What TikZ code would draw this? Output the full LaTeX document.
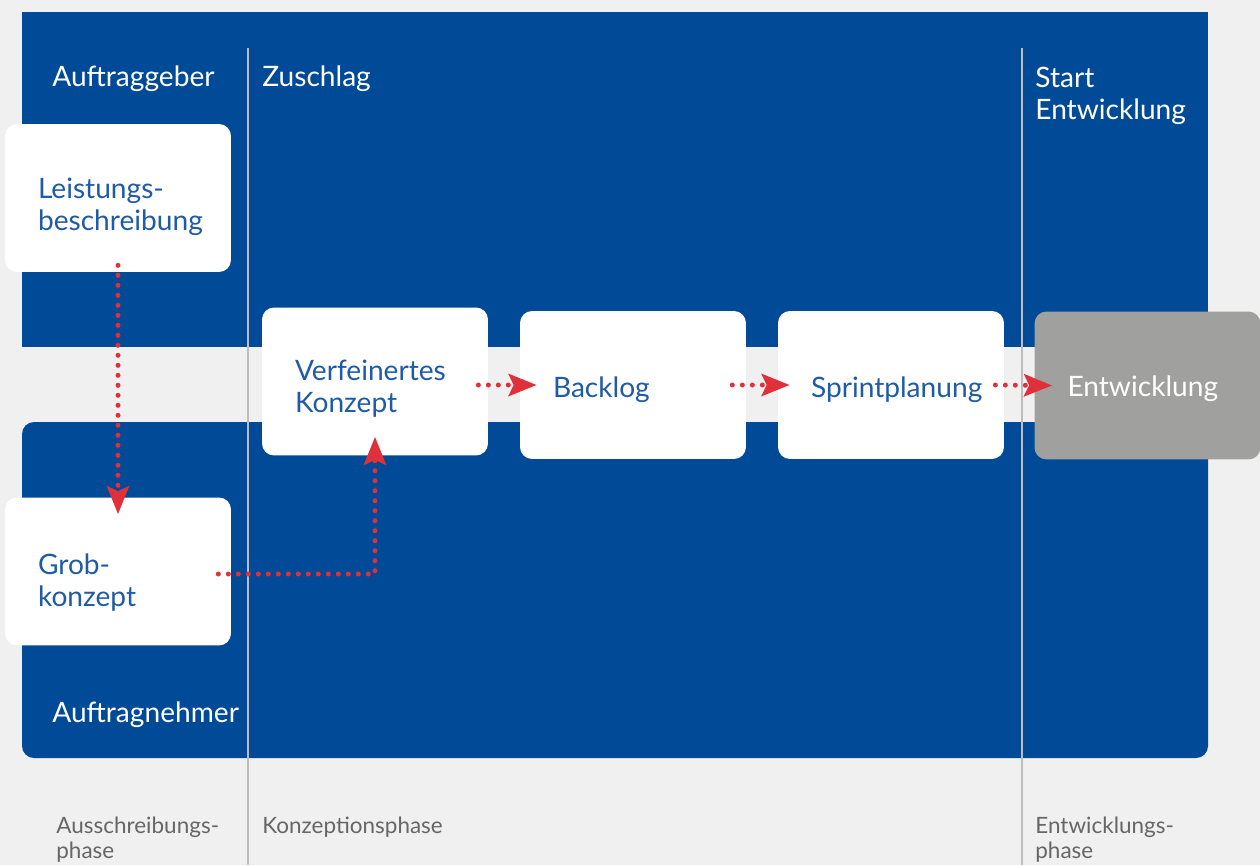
\documentclass[tikz,border=0pt]{standalone}
\usepackage{fontspec}
\setmainfont{Lato}
\usepackage{tikz}
\usetikzlibrary{arrows.meta, positioning}

\definecolor{bgray}{HTML}{F0F0F0}
\definecolor{panelblue}{HTML}{004A97}
\definecolor{textblue}{HTML}{1F5BA6}
\definecolor{linegray}{HTML}{BDBDBD}
\definecolor{devgray}{HTML}{A0A19F}
\definecolor{flowred}{HTML}{E0313A}
\definecolor{phasegray}{HTML}{666666}

\begin{document}
\begin{tikzpicture}[
    x=0.02cm, y=-0.02cm,
    box/.style={rectangle, rounded corners=0.24cm, fill=white, text=textblue, minimum width=4.52cm, minimum height=2.96cm, text width=3.2cm, inner xsep=0.66cm, inner ysep=0pt, align=left, font=\fontsize{16}{18.2}\selectfont},
    drop/.style={execute at begin node={\rule{0pt}{#1}}},
    lane/.style={inner sep=0pt, anchor=base west, align=left, text=white, font=\fontsize{16}{18.2}\selectfont},
    phase/.style={inner sep=0pt, anchor=base west, align=left, text=phasegray, font=\fontsize{12.8}{14.2}\selectfont},
    flow/.style={draw=flowred, line width=0.1cm, line cap=round, dash pattern=on 0pt off 0.2cm, -{Stealth[length=0.56cm, width=0.44cm, inset=0.1cm, fill=flowred]}}
    ]

    % Background
    \fill[bgray] (0,0) rectangle (1260,865);
    \useasboundingbox (0,0) rectangle (1260,865);

    % Lanes
    \fill[panelblue] (22,12) rectangle (1208,347);
    \fill[panelblue, rounded corners=0.24cm] (22,422) rectangle (1208,758);

    % Phase borders
    \draw[linegray, line width=0.03cm] (248,48) -- (248,865);
    \draw[linegray, line width=0.03cm] (1022,48) -- (1022,865);

    % Lane and milestone labels
    \node[lane] (geber) at (52,87) {Auftraggeber};
    \node[lane] (zuschlag) at (262,87) {Zuschlag};
    \node[lane] (start) at (1035,119) {Start\\Entwicklung};
    \node[lane] (nehmer) at (52,722) {Auftragnehmer};

    % Boxes
    \node[box, drop=22pt] (leistung) at (118,198) {Leistungs-\\beschreibung};
    \node[box, drop=24pt] (grob) at (118,571.5) {Grob-\\konzept};
    \node[box, drop=20pt] (verfeinert) at (375,381.5) {Verfeinertes\\Konzept};
    \node[box, drop=17pt] (backlog) at (633,385) {Backlog};
    \node[box, drop=17pt] (sprint) at (891,385) {Sprintplanung};
    \node[box, drop=16pt, fill=devgray, text=white, minimum width=4.5cm] (entw) at (1147.5,385.5) {Entwicklung};

    % Flow
    \draw[flow] ([yshift=0.14cm]leistung.south) -- ([yshift=-0.34cm]grob.north);
    \draw[flow] ([xshift=-0.26cm, yshift=-0.05cm]grob.east) -| ([yshift=0.38cm]verfeinert.south);
    \draw[flow] ([xshift=-0.2cm, yshift=-0.07cm]verfeinert.east) -- ([xshift=0.34cm]backlog.west);
    \draw[flow] ([xshift=-0.28cm]backlog.east) -- ([xshift=0.24cm]sprint.west);
    \draw[flow] ([xshift=-0.18cm]sprint.east) -- ([xshift=0.36cm]entw.west);

    % Phases
    \node[phase] (ausschreibung) at (56,858) {Ausschreibungs-\\phase};
    \node[phase] (konzeption) at (262,833) {Konzeptionsphase};
    \node[phase] (entwicklung) at (1035,858) {Entwicklungs-\\phase};

\end{tikzpicture}
\end{document}
